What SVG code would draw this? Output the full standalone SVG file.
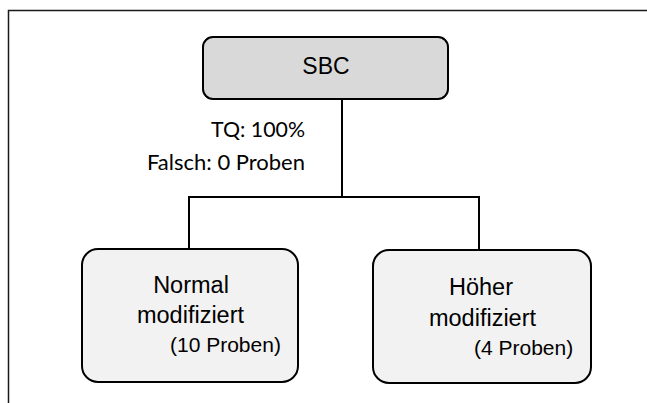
<svg xmlns="http://www.w3.org/2000/svg" width="647" height="403" viewBox="0 0 647 403">
<style>
.frame{fill:none;stroke:#1a1a1a;stroke-width:1.5}
.box{stroke:#000;stroke-width:2}
.top{fill:#d9d9d9}
.leaf{fill:#f2f2f2}
.conn{fill:none;stroke:#000;stroke-width:2}
.t{font-family:"Liberation Sans",Arial,sans-serif;fill:#000}
.lbl{font-family:Lato,"Liberation Sans",sans-serif;fill:#000;font-size:21px}
</style>
<rect width="647" height="403" fill="#fff"/>
<path class="frame" d="M8.5,403 V10.5 H647"/>
<g id="connectors">
<path class="conn" d="M342,99 V197"/>
<path class="conn" d="M189,250 V197 H479 V251"/>
</g>
<g id="sbc">
<rect class="box top" x="203" y="37" width="245" height="62" rx="10"/>
<text class="t" x="326" y="74" font-size="23" text-anchor="middle">SBC</text>
</g>
<g id="edge-label">
<text class="lbl" x="305" y="136.5" text-anchor="end" textLength="94" lengthAdjust="spacingAndGlyphs">TQ: 100%</text>
<text class="lbl" x="305" y="170" text-anchor="end" textLength="158" lengthAdjust="spacingAndGlyphs">Falsch: 0 Proben</text>
</g>
<g id="normal">
<rect class="box leaf" x="82" y="249" width="216" height="133" rx="16"/>
<text class="t" x="191" y="293" font-size="23.5" text-anchor="middle">Normal</text>
<text class="t" x="190.5" y="323" font-size="23.5" text-anchor="middle">modifiziert</text>
<text class="t" x="170" y="352" font-size="21">(10 Proben)</text>
</g>
<g id="hoeher">
<rect class="box leaf" x="373" y="250" width="218" height="133" rx="16"/>
<text class="t" x="481" y="295" font-size="23.5" text-anchor="middle">Höher</text>
<text class="t" x="482.5" y="326" font-size="23.5" text-anchor="middle">modifiziert</text>
<text class="t" x="474" y="355" font-size="21">(4 Proben)</text>
</g>
</svg>
